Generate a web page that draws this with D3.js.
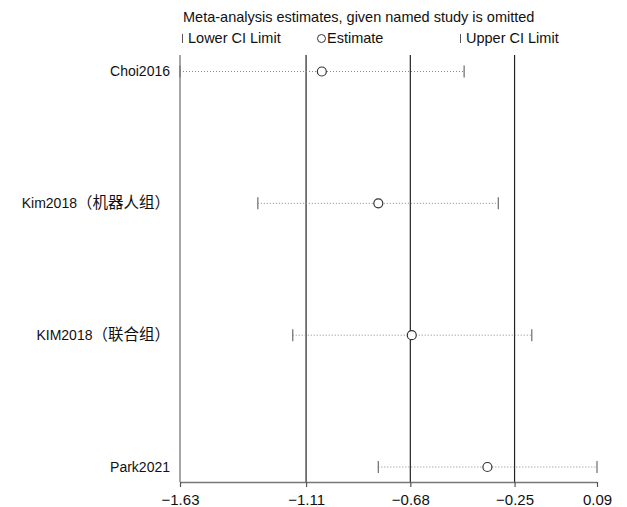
<!DOCTYPE html>
<html>
<head>
<meta charset="utf-8">
<script src="https://cdn.jsdelivr.net/npm/d3@7"></script>
<style>
  html, body { margin: 0; padding: 0; background: #fff; }
  svg { display: block; font-family: "Liberation Sans", Arial, "Noto Sans CJK SC", sans-serif; }
</style>
</head>
<body>
<div id="chart"></div>
<script>
// studies omitted, one row each (top to bottom)
const studies = ["Choi2016", "Kim2018（机器人组）", "KIM2018（联合组）", "Park2021"];
const lowerCI = [-1.63, -1.309, -1.165, -0.812];
const estimate = [-1.045, -0.812, -0.674, -0.362];
const upperCI = [-0.458, -0.317, -0.179, 0.09];

const tickValues = [-1.63, -1.11, -0.68, -0.25, 0.09];
const refLines = [-1.11, -0.68, -0.25];

const width = 627, height = 507;
const rows = studies.map((s, i) => ({ study: s, lo: lowerCI[i], est: estimate[i], hi: upperCI[i] }));

const svg = d3.select("#chart").append("svg")
    .attr("width", width).attr("height", height)
    .attr("viewBox", [0, 0, width, height]);

const x = d3.scaleLinear().domain([-1.63, 0.09]).range([180, 597]);
const y = d3.scalePoint().domain(studies).range([71.5, 467]);
const plotTop = 55, axisY = 482;

// header + legend
svg.append("text").attr("x", 183).attr("y", 22)
    .attr("font-size", 14.5).attr("fill", "#111")
    .text("Meta-analysis estimates, given named study is omitted");

const legend = svg.append("g").attr("font-size", 14.5).attr("fill", "#111");
legend.append("line").attr("x1", 182.5).attr("x2", 182.5).attr("y1", 34).attr("y2", 43)
    .attr("stroke", "#555").attr("stroke-width", 1);
legend.append("text").attr("x", 188).attr("y", 43).text("Lower CI Limit");
legend.append("circle").attr("cx", 321.5).attr("cy", 38.5).attr("r", 4)
    .attr("fill", "none").attr("stroke", "#333").attr("stroke-width", 1);
legend.append("text").attr("x", 327).attr("y", 43).text("Estimate");
legend.append("line").attr("x1", 460.5).attr("x2", 460.5).attr("y1", 34).attr("y2", 43)
    .attr("stroke", "#555").attr("stroke-width", 1);
legend.append("text").attr("x", 466).attr("y", 43).text("Upper CI Limit");

// left border line
svg.append("line")
    .attr("x1", x(-1.63)).attr("x2", x(-1.63)).attr("y1", plotTop).attr("y2", axisY)
    .attr("stroke", "#777").attr("stroke-width", 1.3);

// reference lines
svg.append("g").selectAll("line").data(refLines).join("line")
    .attr("x1", d => x(d)).attr("x2", d => x(d))
    .attr("y1", plotTop).attr("y2", axisY)
    .attr("stroke", "#222").attr("stroke-width", 1.2);

// axis
const axis = svg.append("g")
    .attr("transform", `translate(0,${axisY})`)
    .call(d3.axisBottom(x).tickValues(tickValues).tickSize(5).tickSizeOuter(0)
        .tickFormat(d3.format(".2f")));
axis.attr("font-family", null).attr("font-size", null);
axis.select(".domain").attr("stroke", "#777").attr("stroke-width", 1.5);
axis.selectAll(".tick line").attr("stroke", "#555").attr("stroke-width", 1.2);
axis.selectAll(".tick text")
    .attr("font-size", 15).attr("fill", "#111")
    .attr("dy", null).attr("y", 23);

// study labels: latin part and CJK part (CJK glyphs a bit larger, as in the original)
const labels = svg.append("g").selectAll("text").data(rows).join("text")
    .attr("x", 170).attr("y", d => y(d.study)).attr("dy", "0.35em")
    .attr("text-anchor", "end").attr("font-size", 14).attr("fill", "#111");

labels.each(function(d) {
    const m = d.study.match(/^([^\uFF08]*)(.*)$/);
    const t = d3.select(this);
    t.append("tspan").text(m[1]);
    if (m[2]) t.append("tspan").attr("font-size", 15.5).text(m[2]);
});

// CI rows
const row = svg.append("g").selectAll("g").data(rows).join("g");

row.append("line")
    .attr("x1", d => x(d.lo)).attr("x2", d => x(d.hi))
    .attr("y1", d => y(d.study)).attr("y2", d => y(d.study))
    .attr("stroke", "#888").attr("stroke-width", 1).attr("stroke-dasharray", "1,2");

row.append("line")
    .attr("x1", d => x(d.lo)).attr("x2", d => x(d.lo))
    .attr("y1", d => y(d.study) - 6).attr("y2", d => y(d.study) + 6)
    .attr("stroke", "#777").attr("stroke-width", 1.3);

row.append("line")
    .attr("x1", d => x(d.hi)).attr("x2", d => x(d.hi))
    .attr("y1", d => y(d.study) - 6).attr("y2", d => y(d.study) + 6)
    .attr("stroke", "#777").attr("stroke-width", 1.3);

row.append("circle")
    .attr("cx", d => x(d.est)).attr("cy", d => y(d.study)).attr("r", 4.5)
    .attr("fill", "#fff").attr("stroke", "#333").attr("stroke-width", 1.2);
</script>
</body>
</html>
